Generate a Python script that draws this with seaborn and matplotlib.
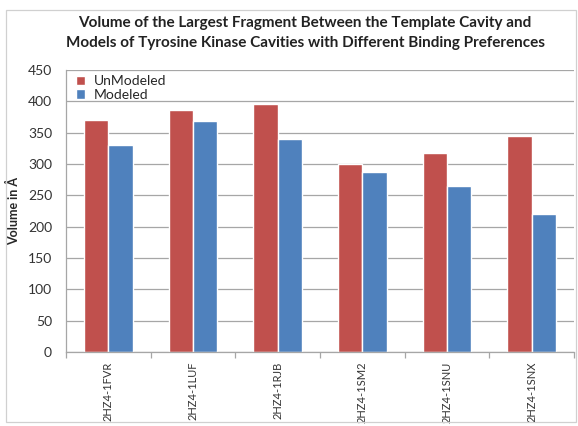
import matplotlib
matplotlib.use("Agg")
import matplotlib.pyplot as plt
import seaborn as sns
import pandas as pd
from matplotlib.patches import Rectangle

categories = ["2HZ4-1FVR", "2HZ4-1LUF", "2HZ4-1RJB", "2HZ4-1SM2", "2HZ4-1SNU", "2HZ4-1SNX"]
unmodeled = [370, 386, 396, 300, 318, 345]
modeled = [330, 368, 340, 288, 265, 220]
series_names = ["UnModeled", "Modeled"]
colors = ["#C0504D", "#4F81BD"]

df = pd.DataFrame({
    "cat": categories * 2,
    "val": unmodeled + modeled,
    "series": [series_names[0]] * len(categories) + [series_names[1]] * len(categories),
})

sns.set_theme(style="white")
plt.rcParams["font.family"] = ["Lato", "DejaVu Sans"]

fig = plt.figure(figsize=(5.78, 4.26), dpi=100)
ax = fig.add_axes([66 / 578, 1 - 352 / 426, (574 - 66) / 578, (352 - 70) / 426])

sns.barplot(data=df, x="cat", y="val", hue="series", palette=colors,
            width=0.576, saturation=1, ax=ax, order=categories,
            hue_order=series_names)

ax.set_xlim(-0.5, 5.5)
ax.set_ylim(0, 450)
ax.set_yticks(range(0, 451, 50))
ax.yaxis.grid(True, color="#A6A6A6", linewidth=0.9)
ax.set_axisbelow(True)
for s in ["top", "right"]:
    ax.spines[s].set_visible(False)
for s in ["left", "bottom"]:
    ax.spines[s].set_color("#A6A6A6")
    ax.spines[s].set_linewidth(0.9)

ax.set_xticks([x + 0.5 for x in range(-1, 6)], minor=True)
ax.tick_params(axis="x", which="minor", bottom=True, length=4, color="#A6A6A6", width=0.9)
ax.tick_params(axis="x", which="major", bottom=False, labelsize=8, labelcolor="#333333", pad=1)
ax.tick_params(axis="y", left=False, labelsize=10, labelcolor="#333333", pad=4)
for lab in ax.get_xticklabels():
    lab.set_rotation(90)
    lab.set_verticalalignment("top")

ax.set_xlabel("")
ax.set_ylabel("Volume in Å", fontsize=9, fontweight="bold")
ax.yaxis.set_label_coords(-0.09, 0.5)

leg = ax.legend(loc="upper left", frameon=False, fontsize=10, handlelength=0.7,
                handleheight=0.7, borderaxespad=0.3, labelspacing=0.1,
                bbox_to_anchor=(0.0, 1.015), handletextpad=0.6)

fig.text(305 / 578, 1 - 33 / 426,
         "Volume of the Largest Fragment Between the Template Cavity and\nModels of Tyrosine Kinase Cavities with Different Binding Preferences",
         ha="center", va="center", fontsize=11, fontweight="bold", linespacing=1.5, color="#222222")

fig.patches.append(Rectangle((6 / 578, 4 / 426), 570 / 578, 412 / 426,
                             transform=fig.transFigure, fill=False,
                             edgecolor="#D0D0D0", linewidth=0.9))

fig.savefig("out.png", dpi=100)
